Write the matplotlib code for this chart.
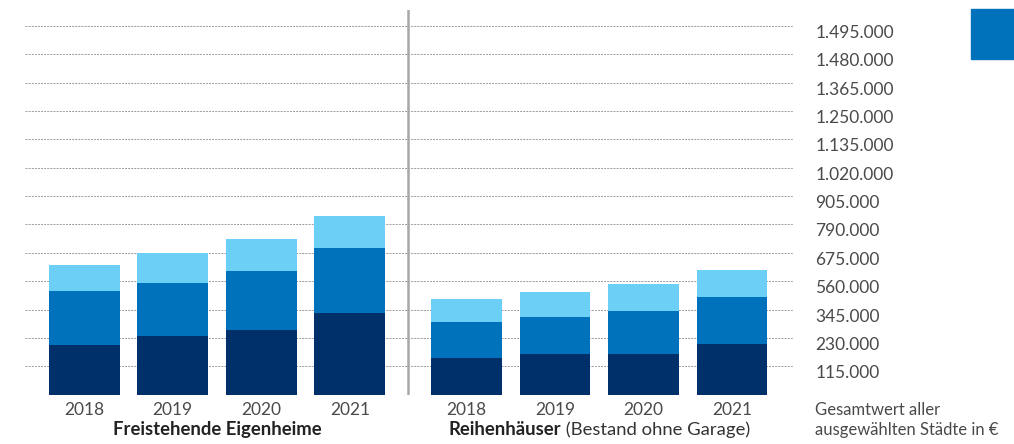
"""Stacked bars: Freistehende Eigenheime vs. Reihenhäuser, 2018-2021."""
import matplotlib
matplotlib.use("Agg")
import matplotlib.pyplot as plt
from matplotlib.patches import Rectangle
from matplotlib.transforms import ScaledTranslation, blended_transform_factory

plt.rcParams["font.family"] = ["Lato", "DejaVu Sans"]

years = ["2018", "2019", "2020", "2021"]
groups = ["Freistehende Eigenheime", "Reihenhäuser"]
group_note = " (Bestand ohne Garage)"

# three stacked parts per bar (bottom, middle, top)
eigen_bottom = [201400, 237900, 262200, 331100]
eigen_middle = [219000, 214900, 239300, 263600]
eigen_top = [105400, 121600, 129800, 129800]

reihen_bottom = [148700, 164900, 164900, 205500]
reihen_middle = [146000, 150000, 174400, 190600]
reihen_top = [93300, 101400, 109500, 109500]

grid_step = 115000
tick_labels = ["115.000", "230.000", "345.000", "560.000", "675.000", "790.000",
               "905.000", "1.020.000", "1.135.000", "1.250.000", "1.365.000",
               "1.480.000", "1.495.000"]
unit_note = "Gesamtwert aller\nausgewählten Städte in €"

c_dark = "#00306a"
c_mid = "#0072bb"
c_light = "#6bcff6"
txt = "#4a4a4a"

W, H = 1014, 444
fig = plt.figure(figsize=(W / 100, H / 100), dpi=100)
ax = fig.add_axes([25 / W, 49.3 / H, (793 - 25) / W, (394.7 - 10) / H])

x_left = [0, 1, 2, 3]
x_right = [4.32 + i for i in range(4)]
width = 0.80

for xs, parts in ((x_left, (eigen_bottom, eigen_middle, eigen_top)),
                  (x_right, (reihen_bottom, reihen_middle, reihen_top))):
    base = [0] * len(xs)
    for vals, col in zip(parts, (c_dark, c_mid, c_light)):
        ax.bar(xs, vals, width, bottom=base, color=col, zorder=3, linewidth=0)
        base = [b + v for b, v in zip(base, vals)]

ax.set_xlim(-0.67, 8.01)
ax.set_ylim(0, 13.56 * grid_step)

# gridlines incl. baseline
for i in range(14):
    ax.axhline(i * grid_step, color="#9a9a9a", linewidth=0.7,
               linestyle=(0, (2.0, 1.2)), zorder=1)

# separator between the groups
sep_x = (x_left[-1] + x_right[0]) / 2
ax.axvline(sep_x, color="#a8a8a8", linewidth=1.8, zorder=2)

for s in ax.spines.values():
    s.set_visible(False)

ax.set_yticks([grid_step * (i + 1) for i in range(len(tick_labels))])
ax.set_yticklabels(tick_labels)
ax.yaxis.tick_right()
ax.tick_params(axis="y", length=0, pad=16, labelsize=12.5, labelcolor=txt)
for lab in ax.get_yticklabels():
    lab.set_transform(lab.get_transform() + ScaledTranslation(0, -5.5 / 100, fig.dpi_scale_trans))

ax.set_xticks(x_left + x_right)
ax.set_xticklabels(years * 2)
ax.tick_params(axis="x", length=0, pad=5, labelsize=12.5, labelcolor=txt)

label_y = -0.1048
trans = blended_transform_factory(ax.transData, ax.transAxes)
ax.text(sum(x_left) / 4, label_y, groups[0], transform=trans, ha="center", va="baseline",
        fontsize=13.3, fontweight="bold", color="#222222")

t1 = ax.text(0, label_y, groups[1], transform=trans, ha="left", va="baseline",
             fontsize=13.3, fontweight="bold", color="#222222")
t2 = ax.annotate(group_note, xy=(1, 0), xycoords=t1, va="bottom", ha="left",
                 fontsize=13.3, color="#333333")
fig.canvas.draw()
r = fig.canvas.get_renderer()
w_px = t1.get_window_extent(r).width + t2.get_window_extent(r).width
cx = ax.transData.transform((sum(x_right) / 4, 0))[0]
x0 = ax.transData.inverted().transform((cx - w_px / 2, 0))[0]
t1.set_x(x0)

fig.text(815 / W, 1 - 420 / H, unit_note, ha="left", va="center", fontsize=12,
         color=txt, linespacing=1.3)

fig.add_artist(Rectangle((971 / W, 1 - 58.7 / H), 43 / W, 49.7 / H,
                         transform=fig.transFigure, color=c_mid))

fig.savefig("out.png", dpi=100)
